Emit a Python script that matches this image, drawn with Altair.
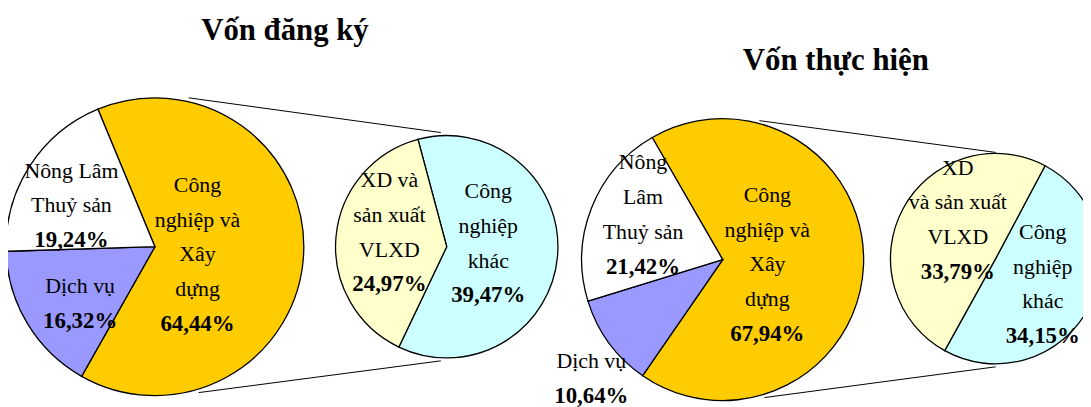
import math
import altair as alt
import pandas as pd

# ---------------- data ----------------
titles = ["Vốn đăng ký", "Vốn thực hiện"]

main_cats = ["Công nghiệp và Xây dựng", "Dịch vụ", "Nông Lâm Thuỷ sản"]
sub_cats = ["Công nghiệp khác", "XD và sản xuất VLXD"]

reg_main_vals = [64.44, 16.32, 19.24]
reg_main_names = ["Công\nnghiệp và\nXây\ndựng", "Dịch vụ", "Nông Lâm\nThuỷ sản"]
reg_sub_vals = [39.47, 24.97]
reg_sub_names = ["Công\nnghiệp\nkhác", "XD và\nsản xuất\nVLXD"]

imp_main_vals = [67.94, 10.64, 21.42]
imp_main_names = ["Công\nnghiệp và\nXây\ndựng", "Dịch vụ", "Nông\nLâm\nThuỷ sản"]
imp_sub_vals = [34.15, 33.79]
imp_sub_names = ["Công\nnghiệp\nkhác", "XD\nvà sản xuất\nVLXD"]

color_domain = ["Công nghiệp và Xây dựng", "Dịch vụ", "Nông Lâm Thuỷ sản",
                "Công nghiệp khác", "XD và sản xuất VLXD"]
color_range = ["#FFCC00", "#9999FF", "#FFFFFF", "#CCFFFF", "#FFFFCC"]

# ---------------- styling ----------------
FONT = "Times New Roman, Liberation Serif, serif"
LH = 35
color_scale = alt.Scale(domain=color_domain, range=color_range)


def frame(cats, vals, names):
    return pd.DataFrame({
        "cat": cats,
        "value": vals,
        "order": list(range(len(cats))),
        "name": names,
        "pct": [f"{v:.2f}".replace(".", ",") + "%" for v in vals],
    })


def pie(df, cx, cy, r, start_deg, labels):
    start = math.radians(start_deg)
    rng = [start, start + 2 * math.pi]
    total = float(df["value"].sum())
    tscale = alt.Scale(domain=[0, total], range=rng)
    layers = [
        alt.Chart(df).mark_arc(radius=r, stroke="black", strokeWidth=1.3).encode(
            theta=alt.Theta("value:Q", stack=True, scale=tscale),
            order=alt.Order("order:Q"),
            color=alt.Color("cat:N", scale=color_scale, legend=None),
            x=alt.value(cx), y=alt.value(cy),
        )
    ]
    for cat, (lr, dx, dy) in labels.items():
        n = len(df.loc[df["cat"] == cat, "name"].iloc[0].split("\n"))
        base = (alt.Chart(df)
                .transform_window(cum="sum(value)", sort=[alt.SortField("order")], frame=[None, 0])
                .transform_calculate(mid="datum.cum - datum.value / 2")
                .transform_filter(alt.datum.cat == cat))
        enc = dict(theta=alt.Theta("mid:Q", stack=None, scale=tscale),
                   x=alt.value(cx), y=alt.value(cy))
        layers.append(base.mark_text(
            radius=lr, dx=dx, dy=dy - n * LH / 2, font=FONT, fontSize=22,
            lineBreak="\n", lineHeight=LH, baseline="middle", align="center",
            color="black").encode(text="name:N", **enc))
        layers.append(base.mark_text(
            radius=lr, dx=dx, dy=dy + n * LH / 2, font=FONT, fontSize=23,
            fontWeight="bold", baseline="middle", align="center",
            color="black").encode(text="pct:N", **enc))
    return layers


def rule(x, y, x2, y2):
    return alt.Chart(pd.DataFrame({"k": [0]})).mark_rule(color="black", strokeWidth=1).encode(
        x=alt.value(x), y=alt.value(y), x2=alt.value(x2), y2=alt.value(y2))


def title(t, x, y):
    return alt.Chart(pd.DataFrame({"t": [t]})).mark_text(
        font=FONT, fontSize=31, fontWeight="bold", baseline="middle", align="center",
        color="black").encode(text="t:N", x=alt.value(x), y=alt.value(y))


layers = [
    rule(182, 89, 436, 124), rule(192, 386, 436, 354),
    rule(757, 112, 995, 144), rule(762, 391, 995, 360),
]
layers += pie(frame(main_cats, reg_main_vals, reg_main_names), 148, 239, 150, -22.5, {
    "Công nghiệp và Xây dựng": (46, -3, 5),
    "Dịch vụ": (95, 6, 8),
    "Nông Lâm Thuỷ sản": (93, -6, 9),
})
layers += pie(frame(sub_cats, reg_sub_vals, reg_sub_names), 442, 239, 112, -15, {
    "Công nghiệp khác": (40, 2, -7),
    "XD và sản xuất VLXD": (60, 2, -9),
})
layers += pie(frame(main_cats, imp_main_vals, imp_main_names), 720, 252, 142, -30, {
    "Công nghiệp và Xây dựng": (45, 0, 3),
    "Dịch vụ": (179, 12, 14),
    "Nông Lâm Thuỷ sản": (97, 10, -10),
})
layers += pie(frame(sub_cats, imp_sub_vals, imp_sub_names), 995, 251, 106, 28, {
    "Công nghiệp khác": (54, 0, 0),
    "XD và sản xuất VLXD": (57, 12, -12),
})
layers += [title(titles[0], 279, 22), title(titles[1], 834, 52)]

chart = (alt.layer(*layers)
         .resolve_scale(theta="independent")
         .properties(width=1083, height=399, padding=0,
                     autosize=alt.AutoSizeParams(type="none"), background="white")
         .configure_view(stroke=None))

chart.save("out.html", embed_options={"renderer": "svg", "actions": False})
